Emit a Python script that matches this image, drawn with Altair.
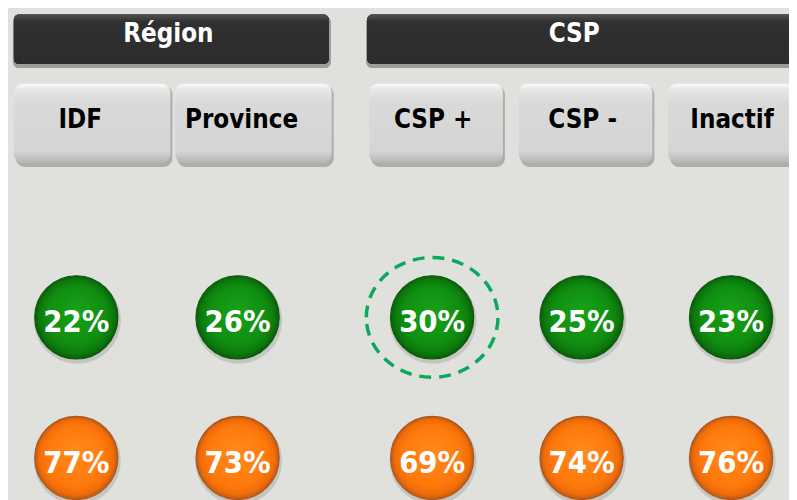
import altair as alt
import pandas as pd

# ---- data ----
region_cats = ["IDF", "Province"]
csp_cats = ["CSP +", "CSP -", "Inactif"]
group_titles = ["Région", "CSP"]
vert_values = [22, 26, 30, 25, 23]      # green row
orange_values = [77, 73, 69, 74, 76]    # orange row
highlight = "CSP +"

cats = region_cats + csp_cats
groups = ["Région"] * len(region_cats) + ["CSP"] * len(csp_cats)
df = pd.DataFrame({"cat": cats, "group": groups, "vert": vert_values, "orange": orange_values})
df["vert_lbl"] = df["vert"].astype(str) + "%"
df["orange_lbl"] = df["orange"].astype(str) + "%"

FONT = "DejaVu Sans Condensed, Liberation Sans, DejaVu Sans"
BG = "#e0e0dc"

btn_grad = alt.LinearGradient(gradient="linear", x1=0, x2=0, y1=0, y2=1, stops=[
    alt.GradientStop(color="#fbfbfb", offset=0),
    alt.GradientStop(color="#e6e6e6", offset=0.08),
    alt.GradientStop(color="#d9d9d9", offset=0.25),
    alt.GradientStop(color="#d5d5d5", offset=0.85),
    alt.GradientStop(color="#b4b4b4", offset=1)])
head_grad = alt.LinearGradient(gradient="linear", x1=0, x2=0, y1=0, y2=1, stops=[
    alt.GradientStop(color="#505050", offset=0),
    alt.GradientStop(color="#303030", offset=0.15),
    alt.GradientStop(color="#2c2c2c", offset=1)])
green_grad = alt.RadialGradient(gradient="radial", x1=0.5, y1=0.42, x2=0.5, y2=0.5, r1=0, r2=0.5, stops=[
    alt.GradientStop(color="#17a317", offset=0),
    alt.GradientStop(color="#108e10", offset=0.7),
    alt.GradientStop(color="#0c780c", offset=0.9),
    alt.GradientStop(color="#0a5c0a", offset=1)])
orange_grad = alt.RadialGradient(gradient="radial", x1=0.5, y1=0.42, x2=0.5, y2=0.5, r1=0, r2=0.5, stops=[
    alt.GradientStop(color="#ff8a1e", offset=0),
    alt.GradientStop(color="#ff7a0c", offset=0.7),
    alt.GradientStop(color="#f06c08", offset=0.9),
    alt.GradientStop(color="#b85a1a", offset=1)])

CIRCLE = 84 * 84  # Vega symbol size: diameter squared


def group_layer(group, title, xrange, pad_inner, header_x, header_x2, title_x, dx, shift):
    cats_g = [c for c, g in zip(cats, groups) if g == group]
    n = len(cats_g)
    step = (xrange[1] - xrange[0]) / (n - pad_inner)
    half_band = step * (1 - pad_inner) / 2
    xoff = half_band + shift
    base = alt.Chart(df).transform_filter(alt.datum.group == group)
    xs = alt.X("cat:N", scale=alt.Scale(type="band", domain=cats_g, range=xrange,
                                         paddingInner=pad_inner, paddingOuter=0), axis=None)
    head_shadow = alt.Chart(df).mark_rect(color="#9a9a9a", opacity=0.55, cornerRadius=6).encode(
        x=alt.value(header_x - 1), x2=alt.value(header_x2 + 2), y=alt.value(6), y2=alt.value(58))
    head = alt.Chart(df).mark_rect(color=head_grad, cornerRadius=5).encode(
        x=alt.value(header_x), x2=alt.value(header_x2), y=alt.value(4), y2=alt.value(54))
    head_txt = alt.Chart(pd.DataFrame({"t": [title]})).mark_text(
        font=FONT, fontSize=26, fontWeight="bold", color="white", baseline="alphabetic").encode(
        x=alt.value(title_x), y=alt.value(32), text="t:N")
    btn_shadow = base.mark_rect(color="#8a8a8a", opacity=0.6, cornerRadius=9).encode(
        x=xs, xOffset=alt.value(2), y=alt.value(76), y2=alt.value(158))
    btn = base.mark_rect(color=btn_grad, cornerRadius=9).encode(
        x=xs, y=alt.value(74), y2=alt.value(154))
    btn_txt = base.mark_text(font=FONT, fontSize=26, fontWeight="bold", color="black",
                             baseline="alphabetic", dx=dx).encode(
        x=xs, y=alt.value(119), text="cat:N")
    layers = [head_shadow, head, head_txt, btn_shadow, btn, btn_txt]
    for row_y, fld, grad, stroke in [(310, "vert", green_grad, "#0a5a0a"),
                                     (452, "orange", orange_grad, "#b0561a")]:
        shadow = base.mark_point(shape="circle", filled=True, size=88 * 88,
                                 color="#a4a4a0", opacity=0.45).encode(
            x=xs, xOffset=alt.value(xoff + 1), y=alt.value(row_y + 3))
        circ = base.mark_point(shape="circle", filled=True, size=CIRCLE, fill=grad,
                               stroke=stroke, strokeWidth=1.2, opacity=1).encode(
            x=xs, xOffset=alt.value(xoff), y=alt.value(row_y))
        txt = base.mark_text(font=FONT, fontSize=31, fontWeight="bold", color="white",
                             baseline="alphabetic").encode(
            x=xs, xOffset=alt.value(xoff), y=alt.value(row_y + 15), text=f"{fld}_lbl:N")
        layers += [shadow, circ, txt]
    if highlight in cats_g:
        ring = base.transform_filter(alt.datum.cat == highlight).mark_point(
            shape="M -1 0 A 1 0.91 0 1 1 1 0 A 1 0.91 0 1 1 -1 0 Z", size=133 * 133,
            filled=False, stroke="#0aa85a", strokeWidth=3.5, strokeDash=[12, 8], opacity=1).encode(
            x=xs, xOffset=alt.value(xoff), y=alt.value(310))
        layers.append(ring)
    return alt.layer(*layers)


region = group_layer("Région", "Région", [6, 327], 0.03, 6, 324, 162, -12, -16)
csp = group_layer("CSP", "CSP", [365, 802], 0.106, 363, 800, 572, -3, -4)

chart = alt.layer(region, csp).resolve_scale(x="independent").properties(
    width=789, height=492, background=BG, padding=0, autosize="none"
).configure_view(stroke=None)

chart.save("out.html", embed_options={"renderer": "svg", "actions": False})
